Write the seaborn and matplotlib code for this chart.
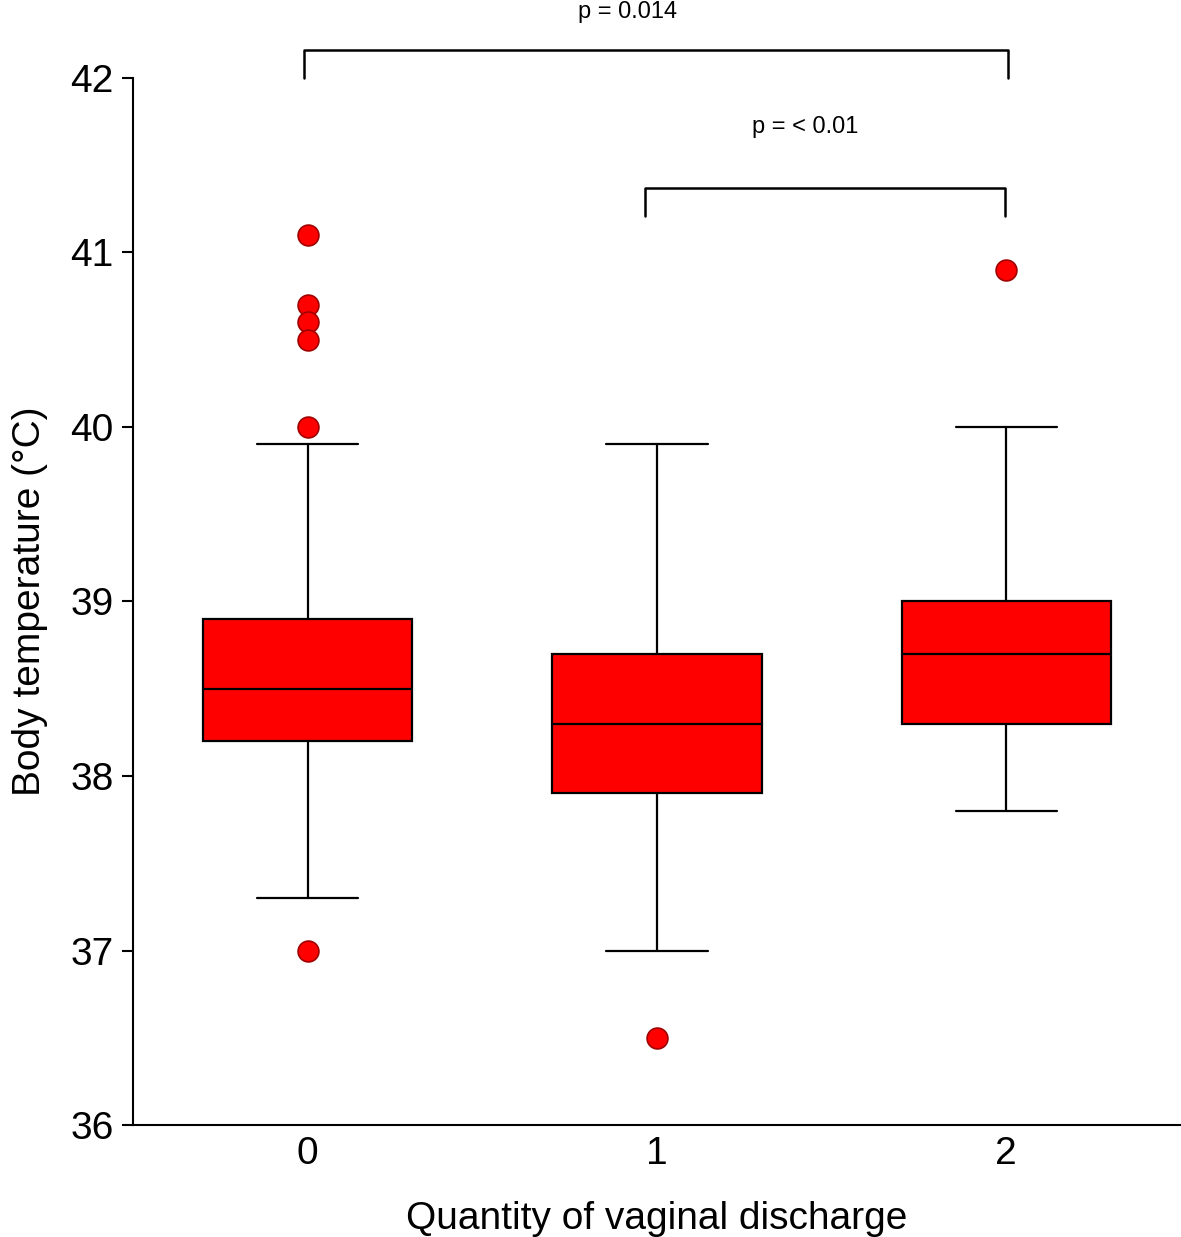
# Box plot of body temperature by quantity of vaginal discharge.
import matplotlib
matplotlib.use("Agg")
import matplotlib.pyplot as plt
import seaborn as sns

# Category labels on the x-axis.
groups = ["0", "1", "2"]

# Box statistics (degrees C).
whisker_low = [37.3, 37.0, 37.8]
q1 = [38.2, 37.9, 38.3]
median = [38.5, 38.3, 38.7]
q3 = [38.9, 38.7, 39.0]
whisker_high = [39.9, 39.9, 40.0]
outliers = [[41.1, 40.7, 40.6, 40.5, 40.0, 37.0], [36.5], [40.9]]

# Significance annotations: bracket ends, labels and their heights.
bracket_left = [-0.01, 0.965]
bracket_right = [2.005, 1.995]
bracket_top = [42.16, 41.37]
bracket_foot = [42.0, 41.21]
p_labels = ["p = 0.014", "p = < 0.01"]
label_x = [0.915, 1.425]
label_y = [42.38, 41.72]

# Use the seaborn ticks style, then set the fonts and colours.
sns.set_style("ticks")
plt.rcParams["font.family"] = ["Liberation Sans", "DejaVu Sans"]
plt.rcParams["text.color"] = "black"
plt.rcParams["axes.labelcolor"] = "black"
plt.rcParams["xtick.color"] = "black"
plt.rcParams["ytick.color"] = "black"

# Build the figure with the axes placed like the reference.
fig = plt.figure(figsize=(11.81, 12.37), dpi=100)
ax = fig.add_axes([0.1126, 0.0905, 0.8874, 0.8465])

# Assemble the statistics dictionaries matplotlib's bxp expects.
stats = []
for i, name in enumerate(groups):
    stats.append({
        "label": name,
        "whislo": whisker_low[i],
        "q1": q1[i],
        "med": median[i],
        "q3": q3[i],
        "whishi": whisker_high[i],
        "fliers": outliers[i],
    })

# Draw the boxes.
ax.bxp(
    stats,
    positions=range(len(groups)),
    widths=0.6,
    capwidths=0.29,
    patch_artist=True,
    boxprops=dict(facecolor="#ff0000", edgecolor="black", linewidth=1.6),
    medianprops=dict(color="black", linewidth=1.6),
    whiskerprops=dict(color="black", linewidth=1.6),
    capprops=dict(color="black", linewidth=1.6),
    flierprops=dict(marker="o", markerfacecolor="#ff0000", markeredgecolor="#a00000",
                    markersize=15, markeredgewidth=1.2),
)

# Axis limits and ticks.
ax.set_xlim(-0.5, 2.5)
ax.set_ylim(36, 42)
ax.set_yticks([36, 37, 38, 39, 40, 41, 42])
ax.set_xticks(range(len(groups)))
ax.set_xticklabels(groups)
ax.tick_params(axis="y", labelsize=28, length=8, width=1.5, pad=6)
ax.tick_params(axis="x", labelsize=28, length=0, pad=8)

# Axis labels.
ax.set_xlabel("Quantity of vaginal discharge", fontsize=28, labelpad=21)
ax.set_ylabel("Body temperature (°C)", fontsize=28, labelpad=16)

# Keep only the left and bottom spines.
sns.despine(ax=ax)
for side in ["left", "bottom"]:
    ax.spines[side].set_linewidth(1.5)
    ax.spines[side].set_color("black")

# Draw significance brackets above the boxes.
for i in range(len(p_labels)):
    a, b = bracket_left[i], bracket_right[i]
    ax.plot([a, a, b, b], [bracket_foot[i], bracket_top[i], bracket_top[i], bracket_foot[i]],
            color="black", linewidth=1.8, clip_on=False, solid_joinstyle="round")
    ax.text(label_x[i], label_y[i], p_labels[i], ha="center", va="center", fontsize=17)

# Save the figure.
fig.savefig("out.png", dpi=100)
plt.close(fig)
